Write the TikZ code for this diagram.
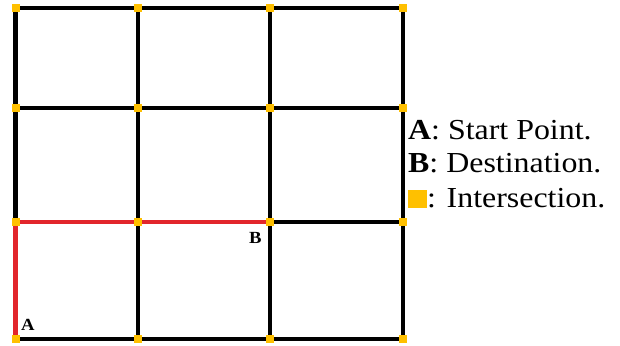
\documentclass[tikz,border=0pt]{standalone}
\usepackage{fontspec}
\setmainfont{Liberation Serif}
\newfontfamily\legfont[FakeStretch=1.1]{Liberation Serif}
\definecolor{gridyellow}{HTML}{FFC000}
\definecolor{pathred}{HTML}{E2262C}
\begin{document}
\begin{tikzpicture}[x=1pt,y=-1pt,
  gridline/.style={line width=4.5pt,black},
  redline/.style={line width=4.5pt,pathred},
  marker/.style={rectangle,fill=gridyellow,inner sep=0pt,minimum size=8pt},
  legend/.style={anchor=base west,font=\legfont\fontsize{29}{32}\selectfont,inner sep=0pt},
  ptlabel/.style={anchor=base west,font=\legfont\fontsize{17}{18}\selectfont\bfseries,inner sep=0pt}]
\useasboundingbox (0,0) rectangle (620,345);
\foreach \i/\x in {0/15.5,1/138,2/270,3/403}
  \foreach \j/\y in {0/8,1/108,2/222,3/339}
    \coordinate (p\i\j) at (\x,\y);
% horizontal lines
\foreach \j in {0,1,2,3}
  \draw[gridline] (p0\j) -- (p3\j);
% vertical lines
\foreach \i in {0,1,2,3}
  \draw[gridline] (p\i0) -- (p\i3);
% path A -> B
\draw[redline] (p03) -- (p02) -- (p22);
% markers
\foreach \i in {0,1,2,3}
  \foreach \j in {0,1,2,3}
    \node[marker] (m\i\j) at (p\i\j) {};
% point labels
\node[ptlabel] (labA) at (21,330) {A};
\node[ptlabel] (labB) at (249,243) {B};
% legend
\node[legend] (leg1) at (408,139) {\textbf{A}: Start Point.};
\node[legend] (leg2) at (408,172) {\textbf{B}: Destination.};
\node[legend] (leg3) at (408,207) {\textcolor{gridyellow}{\rule[-1pt]{19pt}{18pt}}: Intersection.};
\end{tikzpicture}
\end{document}
